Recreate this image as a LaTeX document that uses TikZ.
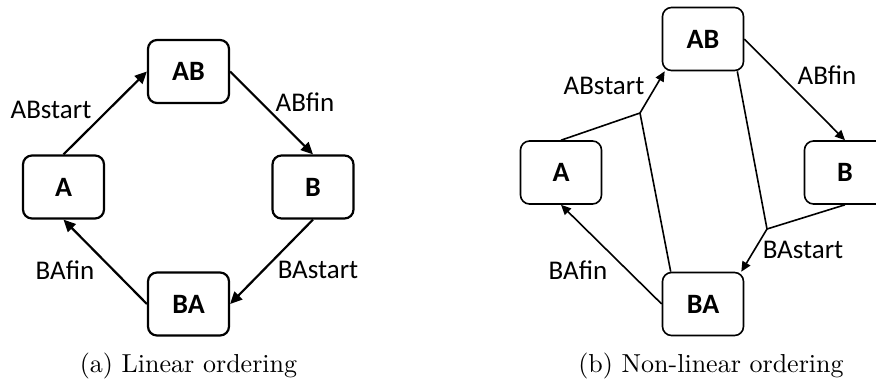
\documentclass[tikz,border=0pt]{standalone}
\usepackage{fontspec}
\usepackage{graphicx}
\newfontfamily\calibri{Carlito}
\usetikzlibrary{arrows.meta,calc}

\tikzset{
  statebox/.style={draw, rounded corners=9pt, minimum width=81pt, minimum height=63pt,
    inner sep=0pt, font=\calibri\bfseries\fontsize{28}{32}\selectfont},
  thickline/.style={line width=2.2pt},
  thinline/.style={line width=1.6pt},
  bigtip/.style={-{Triangle[length=12pt,width=11pt]}},
  smalltip/.style={-{Triangle[length=10pt,width=9pt]}},
  evlabel/.style={font=\calibri\fontsize{27}{31}\selectfont, inner sep=0pt},
  caption/.style={anchor=base, inner sep=0pt}
}

\begin{document}
\begin{tikzpicture}[x=1pt, y=-1pt]
  \clip (0,0) rectangle (876,383);

  % (a) linear ordering
  \begin{scope}[every node/.append style={thickline}]
    \node[statebox] (lA)  at (63.5,187)   {A};
    \node[statebox] (lAB) at (188.5,71.5) {AB};
    \node[statebox] (lB)  at (313,187)    {B};
    \node[statebox] (lBA) at (188.5,304)  {BA};
  \end{scope}
  \draw[thickline, bigtip] (lA.north)  -- (lAB.west);
  \draw[thickline, bigtip] (lAB.east)  -- (lB.north);
  \draw[thickline, bigtip] (lB.south)  -- (lBA.east);
  \draw[thickline, bigtip] (lBA.west)  -- (lA.south);

  \node[evlabel] (lABs) at (51,110)  {ABstart};
  \node[evlabel] (lABf) at (305,102) {ABfin};
  \node[evlabel] (lBAf) at (65,270)  {BAfin};
  \node[evlabel] (lBAs) at (318,270) {BAstart};

  \node[caption] (capa) at (188.5,372) {\scalebox{2.6}{\fontsize{10}{12}\selectfont (a) Linear ordering}};

  % (b) non-linear ordering
  \begin{scope}[every node/.append style={thinline, minimum width=80pt}]
    \node[statebox] (rA)  at (561,172.5) {A};
    \node[statebox] (rAB) at (703,39)    {AB};
    \node[statebox] (rB)  at (845,172.5) {B};
    \node[statebox] (rBA) at (703,304)   {BA};
  \end{scope}
  \coordinate (J1) at (640,113);
  \coordinate (J2) at (767,229);

  \draw[thinline] (rA.north) -- (J1);
  \draw[thinline, smalltip] (J1) -- ([xshift=3pt]rAB.south west);
  \draw[thinline] (J1) -- ([xshift=9pt]rBA.north west);
  \draw[thinline] ([xshift=-7pt]rAB.south east) -- (J2);
  \draw[thinline] (rB.south) -- (J2);
  \draw[thinline, smalltip] (J2) -- ([xshift=-3pt]rBA.north east);
  \draw[thinline, smalltip] (rAB.east) -- (rB.north);
  \draw[thinline, smalltip] (rBA.west) -- (rA.south);

  \node[evlabel] (rABs) at (604,86)  {ABstart};
  \node[evlabel] (rABf) at (827,75)  {ABfin};
  \node[evlabel] (rBAs) at (803,250) {BAstart};
  \node[evlabel] (rBAf) at (578,270) {BAfin};

  \node[caption] (capb) at (711,372) {\scalebox{2.6}{\fontsize{10}{12}\selectfont (b) Non-linear ordering}};
\end{tikzpicture}
\end{document}
